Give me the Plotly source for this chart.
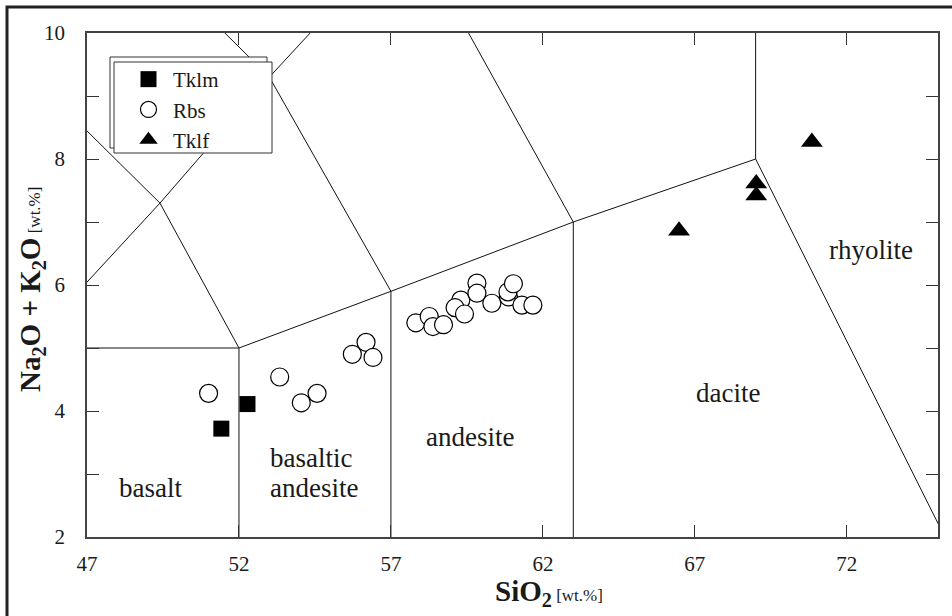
import plotly.graph_objects as go

# ---- data ----
tklm_sio2 = [52.28, 51.42]
tklm_alk = [4.11, 3.72]

rbs_sio2 = [51.0, 53.34, 54.05, 54.57, 55.73, 56.18, 56.41,
            57.82, 58.26, 58.38, 58.73, 59.30, 59.11, 59.42, 59.83,
            59.83, 60.32, 60.87, 60.85, 61.03, 61.31, 61.67]
rbs_alk = [4.28, 4.54, 4.13, 4.28, 4.90, 5.09, 4.85,
           5.40, 5.50, 5.34, 5.37, 5.76, 5.64, 5.54, 6.03,
           5.87, 5.71, 5.81, 5.89, 6.02, 5.68, 5.68]

tklf_sio2 = [66.48, 69.02, 69.02, 70.85]
tklf_alk = [6.86, 7.61, 7.42, 8.27]

# TAS classification boundaries (Le Bas et al., 1986)
boundaries = [
    ([45, 52, 52], [5, 5, 0]),
    ([52, 57, 63, 69, 77.3], [5, 5.9, 7, 8, 0]),
    ([57, 57], [5.9, 0]),
    ([63, 63], [7, 0]),
    ([69, 69], [8, 13]),
    ([52, 49.4, 45], [5, 7.3, 9.4]),
    ([45, 49.4, 53, 57.6], [5, 7.3, 9.3, 11.7]),
    ([57, 53, 48.4], [5.9, 9.3, 11.5]),
    ([63, 57.6, 52.5], [7, 11.7, 14]),
]

region_names = ["basalt", "basaltic", "andesite", "andesite", "dacite", "rhyolite"]
region_x = [49.08, 52.96, 52.96, 59.61, 68.10, 72.80]
region_y = [2.77, 3.25, 2.77, 3.59, 4.29, 6.56]
region_anchor = ["center", "left", "left", "center", "center", "center"]

x_ticks = [47, 52, 57, 62, 67, 72]
y_major_step = 2
y_minor_step = 1

SERIF = "Liberation Serif, Times New Roman, serif"

fig = go.Figure()
for bx, by in boundaries:
    fig.add_trace(go.Scatter(x=bx, y=by, mode="lines",
                             line=dict(color="#111111", width=1),
                             showlegend=False, hoverinfo="skip"))

fig.add_trace(go.Scatter(x=tklm_sio2, y=tklm_alk, mode="markers", name="Tklm",
                         legendgroup="a",
                         marker=dict(symbol="square", size=16, color="black",
                                     line=dict(width=0))))
fig.add_trace(go.Scatter(x=rbs_sio2, y=rbs_alk, mode="markers", name="Rbs",
                         legendgroup="b",
                         marker=dict(symbol="circle", size=18, color="white",
                                     line=dict(width=1.2, color="black"))))
fig.add_trace(go.Scatter(x=tklf_sio2, y=tklf_alk, mode="markers", name="Tklf",
                         legendgroup="c",
                         marker=dict(symbol="triangle-up", size=19, color="black",
                                     line=dict(width=0))))

for name, x, y, anc in zip(region_names, region_x, region_y, region_anchor):
    fig.add_annotation(x=x, y=y, xref="x", yref="y", text=name, showarrow=False,
                       xanchor=anc, yanchor="middle",
                       font=dict(family=SERIF, size=27, color="#1a1a1a"))

# axis titles
fig.add_annotation(x=(493 - 87) / 851, y=(537 - 593) / 504, xref="paper", yref="paper",
                   xanchor="left", yanchor="middle", showarrow=False,
                   text="<b>SiO<sub>2</sub></b><span style='font-size:17px'> [wt.%]</span>",
                   font=dict(family=SERIF, size=29, color="#1a1a1a"))
fig.add_annotation(x=(32 - 87) / 851, y=(537 - 290) / 504, xref="paper", yref="paper",
                   xanchor="center", yanchor="middle", showarrow=False, textangle=-90,
                   text="<b>Na<sub>2</sub>O + K<sub>2</sub>O</b><span style='font-size:17px'> [wt.%]</span>",
                   font=dict(family=SERIF, size=29, color="#1a1a1a"))

# legend boxes (back and front)
def px_to_paper(px, py):
    return (px - 87) / 851, (537 - py) / 504

bx0, by0 = px_to_paper(110, 148)
bx1, by1 = px_to_paper(267, 57)
fx0, fy0 = px_to_paper(114, 153)
fx1, fy1 = px_to_paper(272, 62)
fig.add_shape(type="rect", xref="paper", yref="paper", x0=bx0, y0=by0, x1=bx1, y1=by1,
              line=dict(color="#333333", width=1), fillcolor="white", layer="above")
fig.add_shape(type="rect", xref="paper", yref="paper", x0=fx0, y0=fy0, x1=fx1, y1=fy1,
              line=dict(color="#333333", width=1), fillcolor="white", layer="above")

# outer frame of the figure
ox0, oy0 = px_to_paper(7, 640)
ox1, oy1 = px_to_paper(980, 7)
fig.add_shape(type="rect", xref="paper", yref="paper", x0=ox0, y0=oy0, x1=ox1, y1=oy1,
              line=dict(color="#222222", width=3), fillcolor="rgba(0,0,0,0)", layer="above")

lx, ly = px_to_paper(124, 59)
fig.update_layout(
    width=952, height=616,
    margin=dict(l=87, r=14, t=33, b=79),
    paper_bgcolor="white", plot_bgcolor="white",
    showlegend=True,
    legend=dict(x=lx, y=ly, xanchor="left", yanchor="top",
                bgcolor="rgba(0,0,0,0)", borderwidth=0,
                tracegroupgap=0, itemwidth=39,
                font=dict(family=SERIF, size=21, color="#1a1a1a")),
    xaxis=dict(range=[47, 75], tickvals=x_ticks, ticks="inside", ticklen=12,
               tickcolor="#333333", showgrid=False, zeroline=False,
               showline=True, linecolor="#444444", linewidth=1.5, mirror="ticks",
               tickfont=dict(family=SERIF, size=21, color="#1a1a1a"),
               ticklabelstandoff=7),
    yaxis=dict(range=[2, 10], tick0=2, dtick=y_major_step, ticks="inside",
               ticklen=12, tickcolor="#333333", showgrid=False, zeroline=False,
               showline=True, linecolor="#444444", linewidth=1.5, mirror="ticks",
               minor=dict(dtick=y_minor_step, tick0=2, ticks="inside", ticklen=12,
                          tickcolor="#333333", showgrid=False),
               tickfont=dict(family=SERIF, size=21, color="#1a1a1a"),
               ticklabelstandoff=16),
)

fig.write_html("out.html")
